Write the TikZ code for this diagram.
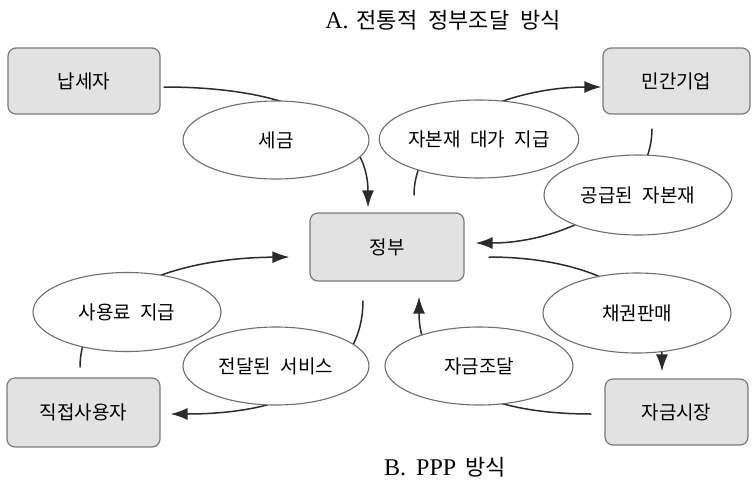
\documentclass[tikz,border=0pt]{standalone}
\usepackage{fontspec}
\setmainfont{Liberation Serif}
\newfontfamily\kr[WordSpace=2.2]{Noto Sans CJK KR}
\usetikzlibrary{shapes.geometric,arrows.meta}
\definecolor{boxfill}{HTML}{E2E2E2}
\definecolor{boxline}{HTML}{7A7A7A}
\definecolor{ovalline}{HTML}{6E6E6E}
\definecolor{flowline}{HTML}{2B2B2B}
\tikzset{
  party/.style={draw=boxline, fill=boxfill, line width=1.2pt, rounded corners=8pt,
    inner sep=0pt, font=\kr\fontsize{19}{21}\selectfont},
  deal/.style={ellipse, draw=ovalline, fill=white, line width=1.1pt, inner sep=0pt,
    font=\kr\fontsize{19}{21}\selectfont},
  flow/.style={draw=flowline, line width=1.5pt, -{Latex[length=17pt,width=12pt]}},
  heading/.style={inner sep=0pt, font=\fontsize{24}{26}\selectfont}
}
\newcommand{\hangul}[1]{{\kr\fontsize{22}{24}\selectfont #1}}
\begin{document}
\begin{tikzpicture}[x=1pt, y=-1pt]
\useasboundingbox (0,0) rectangle (752,488);

% headings
\node[heading] (titleA) at (443,20) {A.\hspace{8pt}\hangul{전통적 정부조달 방식}};
\node[heading] (titleB) at (445,467) {B.\hspace{10pt}PPP\hspace{9pt}\hangul{방식}};

% parties
\node[party, minimum width=152pt, minimum height=66pt] (tax) at (84,81) {납세자};
\node[party, minimum width=147pt, minimum height=66pt] (firm) at (676.5,81) {민간기업};
\node[party, minimum width=154pt, minimum height=68pt] (gov) at (387,247) {정부};
\node[party, minimum width=153pt, minimum height=69pt] (user) at (83.5,412.5) {직접사용자};
\node[party, minimum width=143pt, minimum height=66pt] (market) at (676.5,412) {자금시장};

% flows between the parties
\draw[flow] ([shift={(3,6)}]tax.east) .. controls +(137,0) and +(0,-78) .. ([shift={(-19,-5)}]gov.north);
\draw[flow] ([shift={(27,-17)}]gov.north) .. controls +(0,-76) and +(-82,0) .. ([shift={(-1,6)}]firm.west);
\draw[flow] ([shift={(-24.5,14)}]firm.south) .. controls +(0,72) and +(85,0) .. ([shift={(11,-4)}]gov.east);
\draw[flow] ([shift={(24,10)}]gov.east) .. controls +(92,0) and +(0,-82) .. ([shift={(-14.5,-7)}]market.north);
\draw[flow] ([shift={(-13,2)}]market.west) .. controls +(-122,0) and +(0,74) .. ([shift={(32,15)}]gov.south);
\draw[flow] ([shift={(-24,19)}]gov.south) .. controls +(0,70) and +(130,0) .. ([shift={(10,1.5)}]user.east);
\draw[flow] ([shift={(-3.5,-10)}]user.north) .. controls +(0,-78) and +(-110,1) .. ([shift={(-20,10)}]gov.west);

% what each flow carries
\node[deal, minimum width=186pt, minimum height=78pt] (eTax) at (276,140) {세금};
\node[deal, minimum width=188pt, minimum height=78pt] (ePay) at (479,139) {자본재 대가 지급};
\node[deal, minimum width=188pt, minimum height=80pt] (eSupply) at (638,195) {공급된 자본재};
\node[deal, minimum width=188pt, minimum height=79pt] (eFee) at (127,312) {사용료 지급};
\node[deal, minimum width=186pt, minimum height=78pt] (eService) at (276,366) {전달된 서비스};
\node[deal, minimum width=188pt, minimum height=80pt] (eBond) at (637,313) {채권판매};
\node[deal, minimum width=188pt, minimum height=78pt] (eFund) at (479,366) {자금조달};
\end{tikzpicture}
\end{document}
